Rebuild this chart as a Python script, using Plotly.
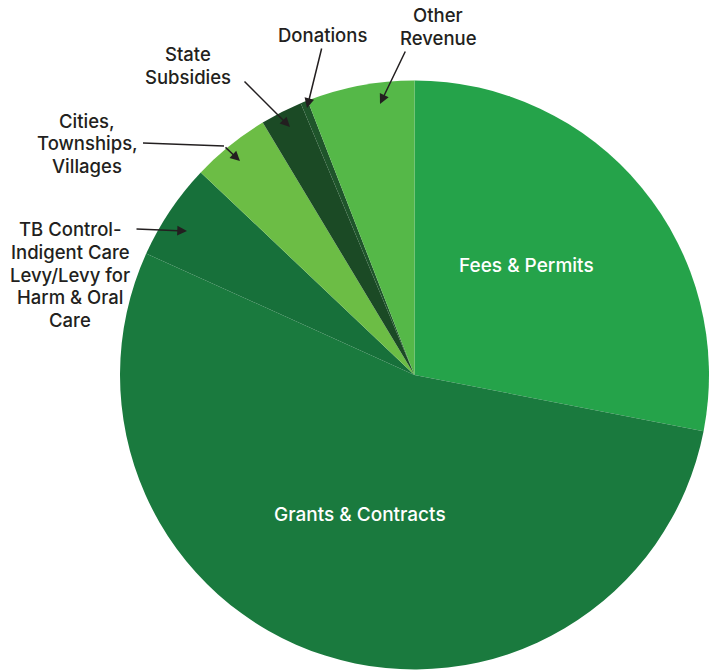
import plotly.graph_objects as go

W, H = 709, 671

categories = ["Fees & Permits", "Grants & Contracts",
              "TB Control-Indigent Care Levy/Levy for Harm & Oral Care",
              "Cities, Townships, Villages", "State Subsidies", "Donations",
              "Other Revenue"]
values = [28.0, 53.6, 5.3, 4.3, 2.3, 0.4, 5.9]
colors = ["#25a34a", "#1a7a3e", "#17703a", "#6cbd45", "#1b4a25", "#1f552b", "#55b848"]

# outside label lines
label_lines = {
    "Other Revenue": ["Other", "Revenue"],
    "Donations": ["Donations"],
    "State Subsidies": ["State", "Subsidies"],
    "Cities, Townships, Villages": ["Cities,", "Townships,", "Villages"],
    "TB": ["TB Control-", "Indigent Care", "Levy/Levy for", "Harm & Oral", "Care"],
}


def px(x):
    return x / W


def py(y):
    return 1 - y / H


fig = go.Figure(go.Pie(
    labels=categories, values=values, sort=False, direction="clockwise",
    rotation=0, marker=dict(colors=colors, line=dict(width=0)),
    textinfo="none", hoverinfo="label+percent", showlegend=False,
    domain=dict(x=[(415 - 295) / W, 1.0], y=[(296 - 295) / H, (296 + 295) / H]),
))

FONT = "Inter"
dark = "#231f20"
lbl = dict(family=FONT, size=18.5, color=dark, weight=500)
inner = dict(family=FONT, size=19, color="white", weight=500)

# label placement: (center x, first line y, line step)
placement = {
    "Other Revenue": (438, 15, 23),
    "Donations": (322, 35, 23),
    "State Subsidies": (188, 54, 23),
    "Cities, Townships, Villages": (87, 121, 22.5),
    "TB": (70, 229, 22.75),
}

ann = []
ann.append(dict(x=px(526), y=py(266), text="Fees & Permits", font=inner))
ann.append(dict(x=px(360), y=py(514), text="Grants & Contracts", font=inner))
for key, lines in label_lines.items():
    cx, y0, step = placement[key]
    for i, t in enumerate(lines):
        ann.append(dict(x=px(cx), y=py(y0 + i * step), text=t, font=lbl))
for a in ann:
    a.update(xref="paper", yref="paper", showarrow=False, xanchor="center",
             yanchor="middle", align="center")

# arrows (head, tail) in pixels
arrows = [((380, 104), (406, 50)),
          ((307, 108), (322, 47)),
          ((290, 127), (243, 80)),
          ((240, 161), (224, 146)),
          ((187, 231), (135, 229))]
for (hx, hy), (tx, ty) in arrows:
    ann.append(dict(x=px(hx), y=py(hy), xref="paper", yref="paper", text="",
                    showarrow=True, ax=tx - hx, ay=ty - hy, arrowhead=2,
                    arrowsize=1.3, arrowwidth=1.5, arrowcolor=dark, standoff=0,
                    startstandoff=0))

fig.update_layout(
    width=W, height=H, margin=dict(l=0, r=0, t=0, b=0),
    paper_bgcolor="white", plot_bgcolor="white", annotations=ann,
    shapes=[dict(type="line", xref="paper", yref="paper", x0=px(143), y0=py(143),
                 x1=px(224), y1=py(146), line=dict(color=dark, width=1.5))],
)

fig.write_html("out.html")
